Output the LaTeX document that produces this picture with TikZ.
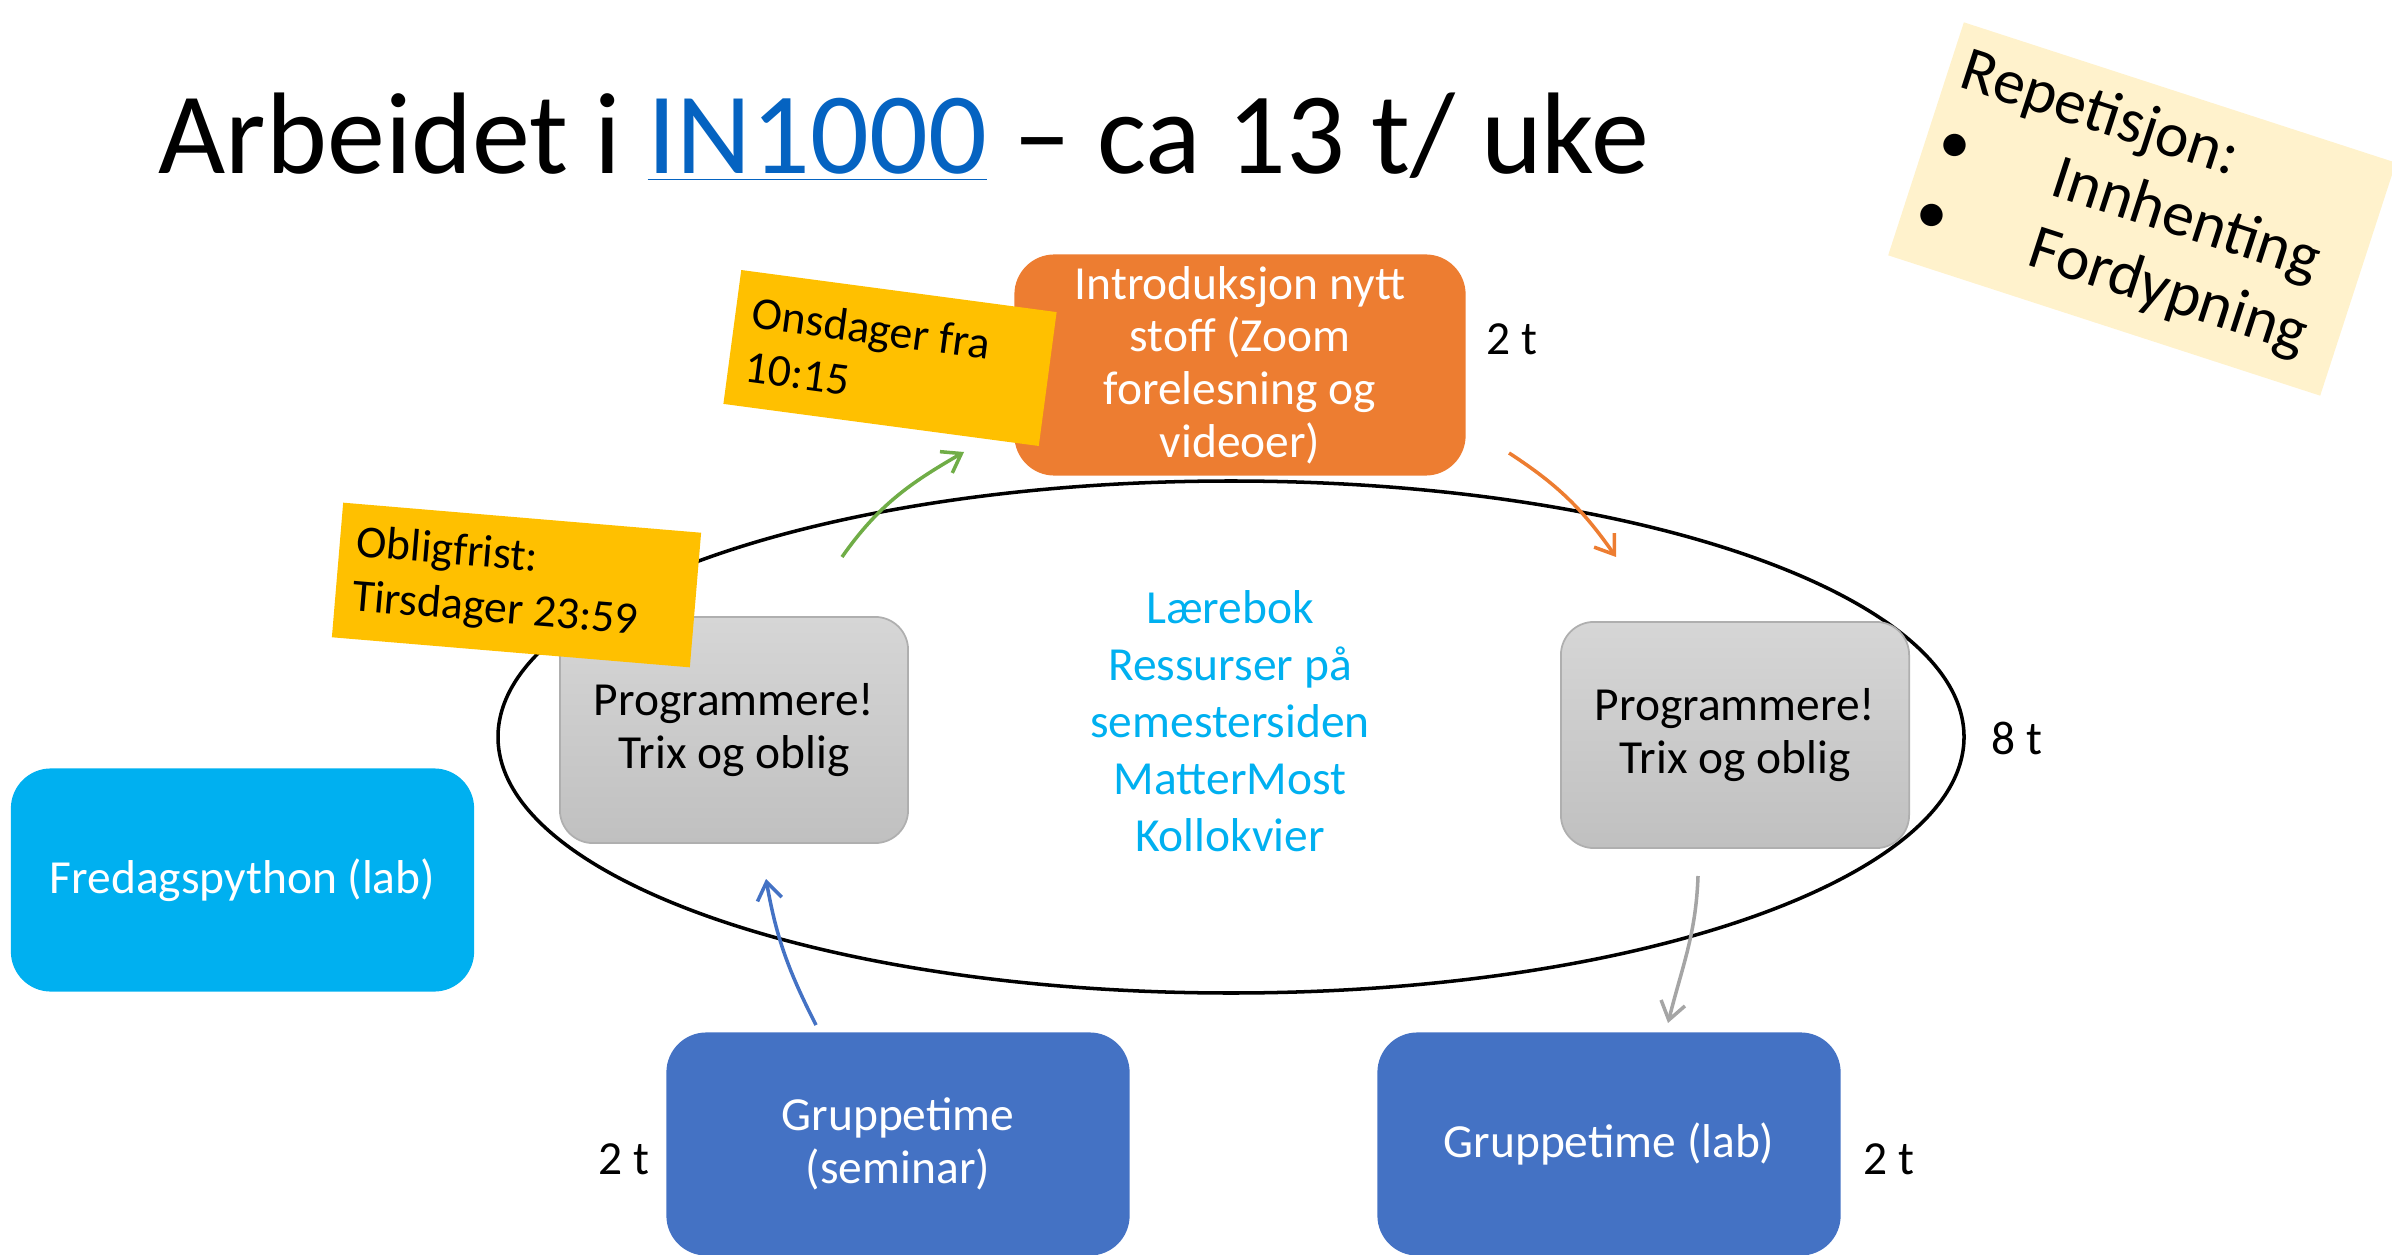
\documentclass[tikz,border=0pt]{standalone}
\usepackage{fontspec}
\setmainfont{Carlito}
\usetikzlibrary{arrows.meta, positioning}
\definecolor{uioorange}{RGB}{237,125,49}
\definecolor{uiogold}{RGB}{255,192,0}
\definecolor{uiocream}{RGB}{255,242,204}
\definecolor{uioblue}{RGB}{68,114,196}
\definecolor{uiocyan}{RGB}{0,176,240}
\definecolor{uiogreen}{RGB}{112,173,71}
\definecolor{uiogrey}{RGB}{165,165,165}
\definecolor{linkblue}{RGB}{5,99,193}
\definecolor{greytop}{RGB}{214,214,214}
\definecolor{greybot}{RGB}{192,192,192}
\definecolor{greyline}{RGB}{175,175,175}

\begin{document}
\begin{tikzpicture}[x=0.01cm, y=0.01cm,
  box/.style={rounded corners=0.4cm, minimum width=4.63cm, minimum height=2.23cm, align=center, text=white, inner sep=2pt, font=\fontsize{13.5}{15}\selectfont},
  progbox/.style={box, draw=greyline, line width=0.5pt, top color=greytop, bottom color=greybot, text=black, minimum width=3.48cm, minimum height=2.26cm, rounded corners=0.33cm},
  timenote/.style={fill=uiogold, align=flush left, inner xsep=0.17cm, minimum height=1.35cm, font=\fontsize{13}{15.5}\selectfont},
  hours/.style={font=\fontsize{13.5}{15}\selectfont},
  flow/.style={-{Straight Barb[length=5pt,width=7pt]}, line width=1pt}]

  \useasboundingbox (0,0) rectangle (2392,1254);

  \node[anchor=base west, inner sep=0, font=\fontsize{33}{40}\selectfont] (title) at (158,1080) {Arbeidet i \textcolor{linkblue}{\underline{IN1000}} – ca 13 t/ uke};

  \draw[line width=1pt] (1231,517) ellipse [x radius=733, y radius=256];

  \node[box, fill=uioorange, minimum width=4.51cm, minimum height=2.21cm] (intro) at (1240,889) {Introduksjon nytt\\stoff (Zoom\\forelesning og\\videoer)};
  \node[hours] (introhours) at (1512,915) {2 t};

  \node[progbox] (progleft) at (734,524) {Programmere!\\Trix og oblig};
  \node[progbox] (progright) at (1735,519) {Programmere!\\Trix og oblig};
  \node[hours] (proghours) at (2017,516) {8 t};

  \node[text=uiocyan, align=center, font=\fontsize{13.5}{16.2}\selectfont] (resources) at (1230,533) {Lærebok\\Ressurser på\\semestersiden\\MatterMost\\Kollokvier};

  \node[box, fill=uiocyan] (friday) at (242.5,374) {Fredagspython (lab)};
  \node[box, fill=uioblue] (seminar) at (898,110) {Gruppetime\\(seminar)};
  \node[box, fill=uioblue] (lab) at (1609,110) {Gruppetime (lab)};
  \node[hours] (seminarhours) at (624,95) {2 t};
  \node[hours] (labhours) at (1889,95) {2 t};

  \node[timenote, rotate=-7.6, text width=2.84cm] (wednesday) at (890,896) {Onsdager fra\\10:15};
  \node[timenote, rotate=-4.8, text width=3.25cm] (deadline) at (516.5,669) {Obligfrist:\\Tirsdager 23:59};

  \node[fill=uiocream, rotate=-18, minimum height=2.3cm, text width=4.26cm, inner xsep=0.14cm, align=flush left, font=\fontsize{18}{21}\selectfont] (review) at (2142,1045) {\begin{tabular}{@{}l@{\hspace{25pt}}l@{}}
    \multicolumn{2}{@{}l}{Repetisjon:}\\
    \textbullet & Innhenting\\
    \textbullet & Fordypning
  \end{tabular}};

  \coordinate (introtail) at (842,697);
  \coordinate (introtip) at (964,802);
  \coordinate (progtail) at (1509,801);
  \coordinate (progtip) at (1616,697);
  \coordinate (labtail) at (1698,378);
  \coordinate (labtip) at (1668,231);
  \coordinate (seminartail) at (816,229);
  \coordinate (seminartip) at (766,375);

  \draw[flow, uiogreen] (introtail) to[out=55, in=210] (introtip);
  \draw[flow, uioorange] (progtail) to[out=-33, in=125] (progtip);
  \draw[flow, uiogrey] (labtail) to[out=-92, in=76] (labtip);
  \draw[flow, uioblue] (seminartail) to[out=117, in=280] (seminartip);
\end{tikzpicture}
\end{document}
